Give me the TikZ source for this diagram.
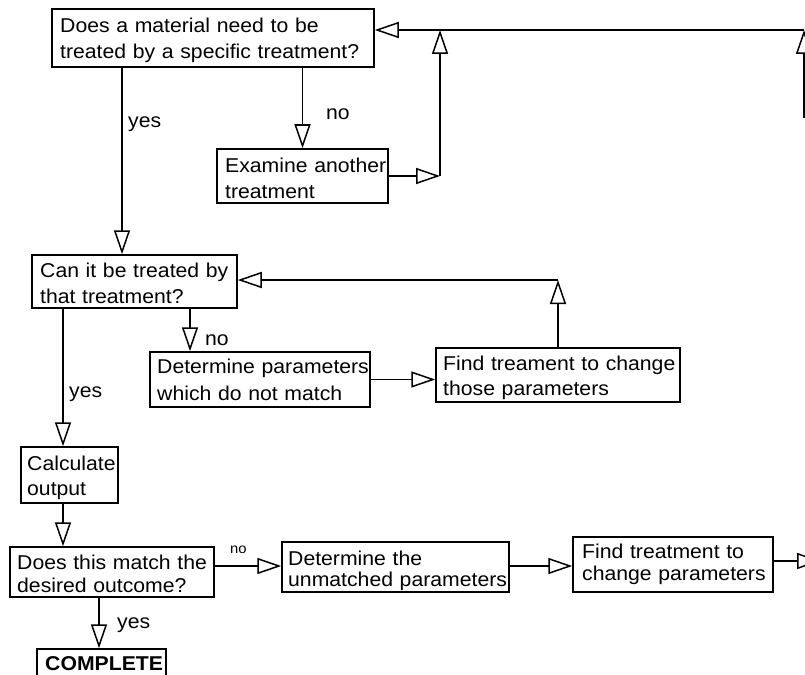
\documentclass[tikz,border=0pt]{standalone}
\usepackage{fontspec}
\setmainfont{Liberation Sans}[FakeStretch=1.06]
\usetikzlibrary{arrows.meta}
\begin{document}
\begin{tikzpicture}[x=1pt,y=-1pt,
  box/.style={draw, line width=1.5pt, rectangle, inner sep=0pt},
  txt/.style={anchor=base west, inner sep=0pt, align=left, text width=300pt,
              font=\fontsize{20}{26}\selectfont},
  flow/.style={line width=1.5pt,
               -{Triangle[open,length=24pt,width=16pt]}},
  lbl/.style={anchor=base west, inner sep=0pt, font=\fontsize{20}{24}\selectfont},
  smalllbl/.style={anchor=base west, inner sep=0pt, font=\fontsize{14}{16}\selectfont}]
\useasboundingbox (0,0) rectangle (805,674);
\fill[white] (0,0) rectangle (805,674);
\clip (0,0) rectangle (805,674);

% box outlines
\node[box, minimum width=322pt, minimum height=58pt] (q1)    at (213,38)     {};
\node[box, minimum width=171pt, minimum height=54pt] (exam)  at (302.5,176)  {};
\node[box, minimum width=205pt, minimum height=53pt] (q2)    at (134.5,281.5){};
\node[box, minimum width=220pt, minimum height=55pt] (detp)  at (260,379.5)  {};
\node[box, minimum width=244pt, minimum height=54pt] (find1) at (558,375)    {};
\node[box, minimum width=97pt,  minimum height=56pt] (calc)  at (69.5,475)   {};
\node[box, minimum width=204pt, minimum height=50pt] (q3)    at (112,572)    {};
\node[box, minimum width=227pt, minimum height=50pt] (detu)  at (395.5,567)  {};
\node[box, minimum width=200pt, minimum height=55pt] (find2) at (673,564.5)  {};
\node[box, minimum width=129pt, minimum height=41pt] (done)  at (101.5,669.5){};

% box texts, placed by the baseline of their first line
\node[txt] (q1t)    at (60,33)   {Does a material need to be\\treated by a specific treatment?};
\node[txt] (examt)  at (225,172) {Examine another\\treatment};
\node[txt] (q2t)    at (40,277)  {Can it be treated by\\that treatment?};
\node[txt, font=\fontsize{20}{27}\selectfont] (detpt) at (157,373) {Determine parameters\\which do not match};
\node[txt, font=\fontsize{20}{25}\selectfont] (find1t) at (443,370) {Find treament to change\\those parameters};
\node[txt, font=\fontsize{20}{25}\selectfont] (calct) at (27,470) {Calculate\\output};
\node[txt, font=\fontsize{20}{23}\selectfont] (q3t) at (17,569) {Does this match the\\desired outcome?};
\node[txt, font=\fontsize{20}{21}\selectfont] (detut) at (288,565) {Determine the\\unmatched parameters};
\node[txt, font=\fontsize{20}{22}\selectfont] (find2t) at (582,558) {Find treatment to\\change parameters};
\node[txt, font=\fontsize{20}{26}\bfseries] (donet) at (45,670) {COMPLETE};

% routing columns and rows
\coordinate (xa) at (122,0);
\coordinate (xb) at (440,0);
\coordinate (xd) at (63,0);
\coordinate (xe) at (190,0);
\coordinate (xf) at (99,0);
\coordinate (tr) at (804,30);
\coordinate (tb) at (804,118);
\coordinate (rq) at (558,280);
\coordinate (ybot) at (0,566);
\coordinate (off) at (821,561);

% first question
\draw[flow] (q1.south -| xa) -- (q2.north -| xa);
\draw[flow] (q1.south -| exam.north) -- (exam.north);
\draw[flow] (exam.east) -- (exam.east -| xb);
\draw[flow] (exam.east -| xb) -- (xb |- tr);
\draw[flow] (tb) -- (tr);
\draw[flow] (tr) -- (q1.east |- tr);

% second question
\draw[flow] (q2.south -| xd) -- (calc.north -| xd);
\draw[flow] (q2.south -| xe) -- (detp.north -| xe);
\draw[flow] (detp.east) -- (find1.west |- detp.east);
\draw[flow] (find1.north) -- (find1.north |- rq);
\draw[flow] (find1.north |- rq) -- (q2.east |- rq);

% outcome check
\draw[flow] (calc.south -| xd) -- (q3.north -| xd);
\draw[flow] (q3.east |- ybot) -- (detu.west |- ybot);
\draw[flow] (detu.east |- ybot) -- (find2.west |- ybot);
\draw[flow] (find2.east |- off) -- (off);
\draw[flow] (q3.south -| xf) -- (done.north -| xf);

% branch labels
\node[lbl] (n1) at (326,120) {no};
\node[lbl] (y1) at (128,128) {yes};
\node[lbl] (n2) at (205,345) {no};
\node[lbl] (y2) at (69,397) {yes};
\node[smalllbl] (n3) at (230,553) {no};
\node[lbl] (y3) at (117,628) {yes};
\end{tikzpicture}
\end{document}
